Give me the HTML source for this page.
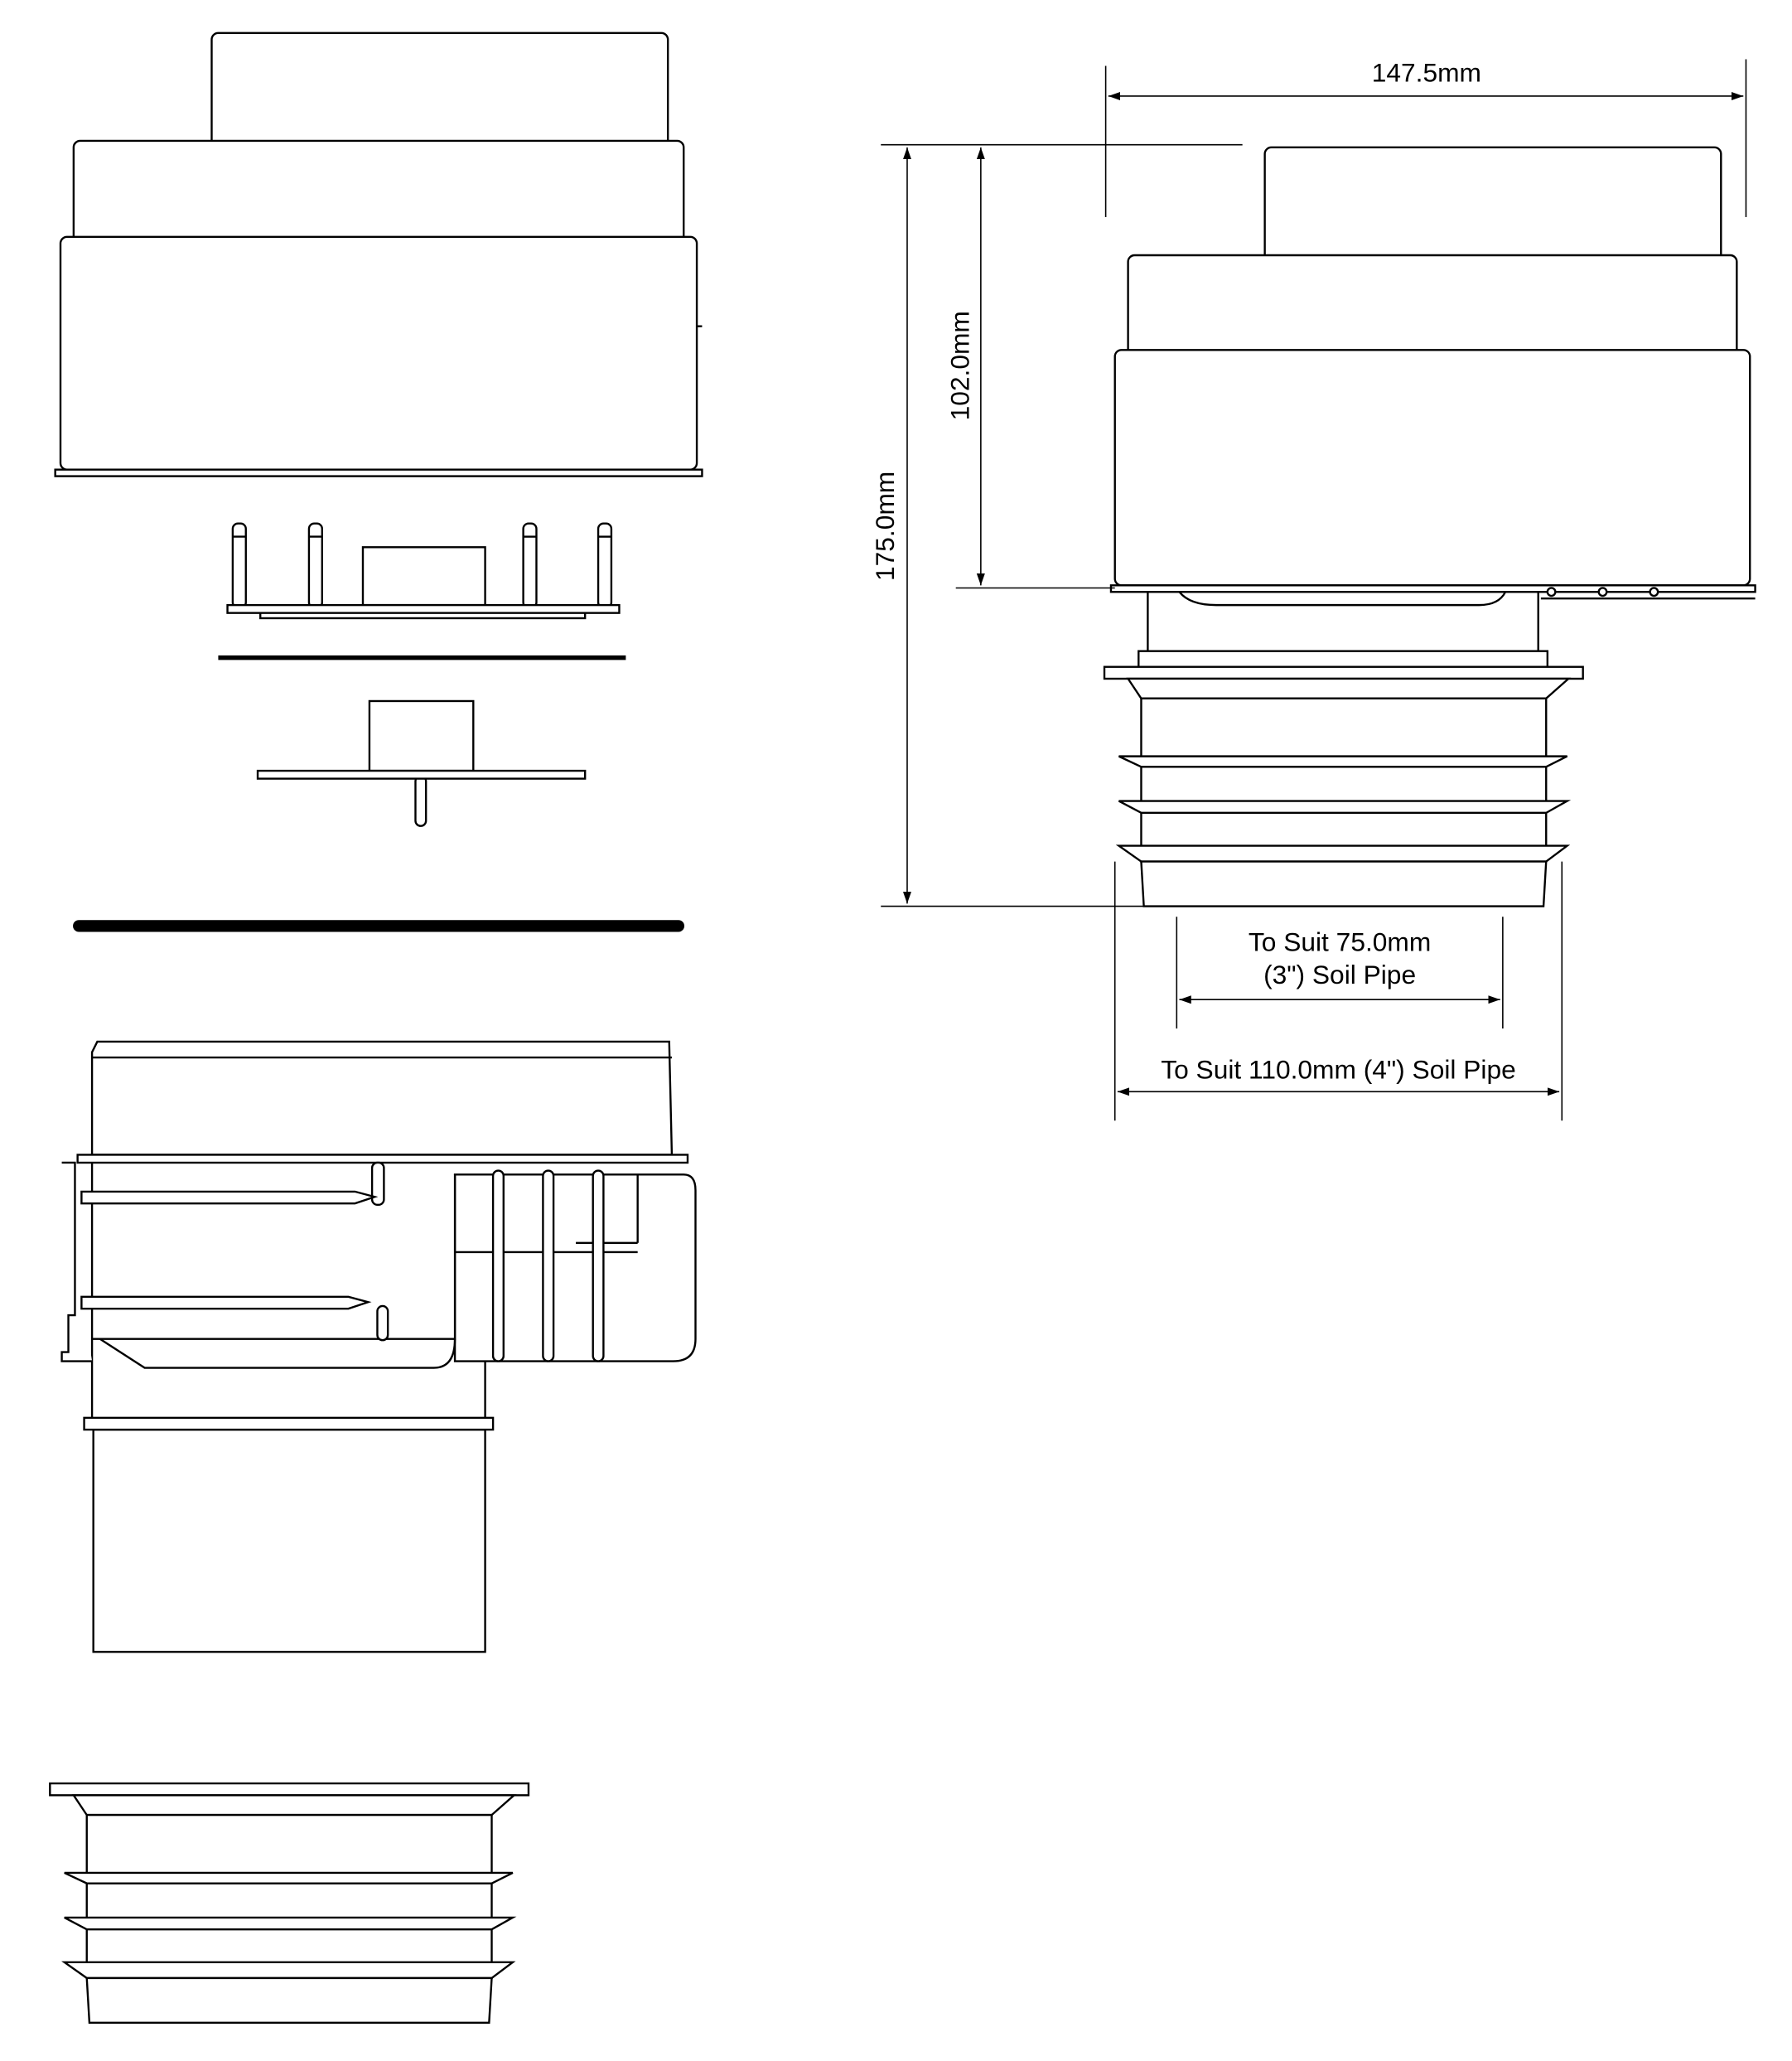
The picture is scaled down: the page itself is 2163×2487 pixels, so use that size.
<!DOCTYPE html>
<html><head><meta charset="utf-8"><style>
html,body{margin:0;padding:0;background:#fff}
svg{display:block}
text{font-family:"Liberation Sans",sans-serif;font-size:20px;fill:#000}
</style></head><body>
<svg width="2163" height="2487" viewBox="0 0 1363 1567" xmlns="http://www.w3.org/2000/svg">
<defs>
<marker id="a" viewBox="0 0 10 10" refX="10" refY="5" markerWidth="9" markerHeight="9" orient="auto-start-reverse" markerUnits="userSpaceOnUse"><path d="M0,1.5 L10,5 L0,8.5z" fill="#000"/></marker>
<g id="bel" fill="#fff" stroke="#000" stroke-width="1.5">
<rect x="840" y="507" width="364" height="9"/>
<polygon points="858,516 1193,516 1176,531 868,531"/>
<rect x="868" y="531" width="308" height="124"/>
<polygon points="851,575 1192,575 1176,583 868,583"/>
<polygon points="851,609 1192,609 1176,618 868,618"/>
<polygon points="851,643 1192,643 1176,655 868,655"/>
<polygon points="868,655 1176,655 1174,689 870,689"/>
</g>
</defs>
<g fill="#fff" stroke="#000" stroke-width="1.5">
<!-- left top cap -->
<rect x="161" y="25" width="347" height="90" rx="5"/>
<rect x="56" y="107" width="464" height="80" rx="5"/>
<rect x="46" y="180" width="484" height="177" rx="5"/>
<rect x="42" y="357" width="492" height="5"/>
<line x1="530" y1="248" x2="534" y2="248"/>
<!-- pin plate -->
<rect x="177" y="398" width="10" height="64" rx="4"/>
<rect x="235" y="398" width="10" height="64" rx="4"/>
<rect x="398" y="398" width="10" height="64" rx="4"/>
<rect x="455" y="398" width="10" height="64" rx="4"/>
<line x1="177" y1="408" x2="187" y2="408"/><line x1="235" y1="408" x2="245" y2="408"/>
<line x1="398" y1="408" x2="408" y2="408"/><line x1="455" y1="408" x2="465" y2="408"/>
<rect x="276" y="416" width="93" height="44"/>
<rect x="198" y="465" width="247" height="5"/>
<rect x="173" y="460" width="298" height="6"/>
<line x1="166" y1="500" x2="476" y2="500" stroke-width="3.5"/>
<!-- flap -->
<rect x="281" y="533" width="79" height="53"/>
<rect x="316" y="590" width="8" height="38" rx="4"/>
<rect x="196" y="586" width="249" height="6"/>
<line x1="60" y1="704" x2="516" y2="704" stroke-width="9" stroke-linecap="round"/>
<!-- lower body -->
<polygon points="74,792 509,792 511,878 70,878 70,800"/>
<line x1="70" y1="804" x2="511" y2="804"/>
<path d="M346,893 L520,893 Q529,893 529,905 L529,1018 Q529,1035 512,1035 L346,1035 Z"/>
<rect x="59" y="878" width="464" height="6"/>
<path d="M70,884 L70,1078 M369,1035 L369,1078 M346,893 L346,1018 L70,1018"/>
<path d="M47,884 L57,884 L57,1000 L52,1000 L52,1028 L47,1028 L47,1035 L70,1035"/>
<path d="M76,1018 L110,1040 L330,1040 Q346,1040 346,1018" fill="none"/>
<line x1="346" y1="952" x2="485" y2="952" /><line x1="438" y1="945" x2="485" y2="945"/>
<line x1="485" y1="893" x2="485" y2="945"/>
<rect x="283" y="884" width="9" height="32" rx="4"/>
<rect x="287" y="993" width="8" height="26" rx="4"/>
<path d="M62,906 L270,906 L285,910 L270,915 L62,915 Z"/>
<path d="M62,986 L265,986 L280,990 L265,995 L62,995 Z"/>
<rect x="375" y="890" width="8" height="145" rx="4"/>
<rect x="413" y="890" width="8" height="145" rx="4"/>
<rect x="451" y="890" width="8" height="145" rx="4"/>
<rect x="71" y="1087" width="298" height="169"/>
<rect x="64" y="1078" width="311" height="9"/>
<!-- right top -->
<rect x="962" y="112" width="347" height="90" rx="5"/>
<rect x="858" y="194" width="463" height="80" rx="5"/>
<rect x="848" y="266" width="483" height="179" rx="5"/>
<rect x="845" y="445" width="490" height="5"/>
<path d="M873,450 L873,495 M1170,450 L1170,495"/>
<path d="M897,450 Q905,460 925,460 L1125,460 Q1140,460 1145,450" fill="none"/>
<line x1="1172" y1="455" x2="1335" y2="455"/>
<circle cx="1180" cy="450" r="3"/><circle cx="1219" cy="450" r="3"/><circle cx="1258" cy="450" r="3"/>
<rect x="866" y="495" width="311" height="12"/>
</g>
<use href="#bel"/>
<use href="#bel" transform="translate(-802,849)"/>
<!-- dimensions -->
<g stroke="#000" stroke-width="1" fill="none">
<line x1="841" y1="50" x2="841" y2="165"/><line x1="1328" y1="45" x2="1328" y2="165"/>
<line x1="843" y1="73" x2="1326" y2="73" marker-start="url(#a)" marker-end="url(#a)"/>
<line x1="670" y1="110" x2="945" y2="110"/><line x1="670" y1="689" x2="870" y2="689"/>
<line x1="727" y1="447" x2="848" y2="447"/>
<line x1="690" y1="112" x2="690" y2="687" marker-start="url(#a)" marker-end="url(#a)"/>
<line x1="746" y1="112" x2="746" y2="445" marker-start="url(#a)" marker-end="url(#a)"/>
<line x1="895" y1="697" x2="895" y2="782"/><line x1="1143" y1="697" x2="1143" y2="782"/>
<line x1="897" y1="760" x2="1141" y2="760" marker-start="url(#a)" marker-end="url(#a)"/>
<line x1="848" y1="655" x2="848" y2="852"/><line x1="1188" y1="655" x2="1188" y2="852"/>
<line x1="850" y1="830" x2="1186" y2="830" marker-start="url(#a)" marker-end="url(#a)"/>
</g>
<text x="1085" y="62" text-anchor="middle">147.5mm</text>
<text transform="translate(680,400) rotate(-90)" text-anchor="middle">175.0mm</text>
<text transform="translate(737,278) rotate(-90)" text-anchor="middle">102.0mm</text>
<text x="1019" y="723" text-anchor="middle">To Suit 75.0mm</text>
<text x="1019" y="748" text-anchor="middle">(3") Soil Pipe</text>
<text x="1018" y="820" text-anchor="middle">To Suit 110.0mm (4") Soil Pipe</text>
</svg>
</body></html>
